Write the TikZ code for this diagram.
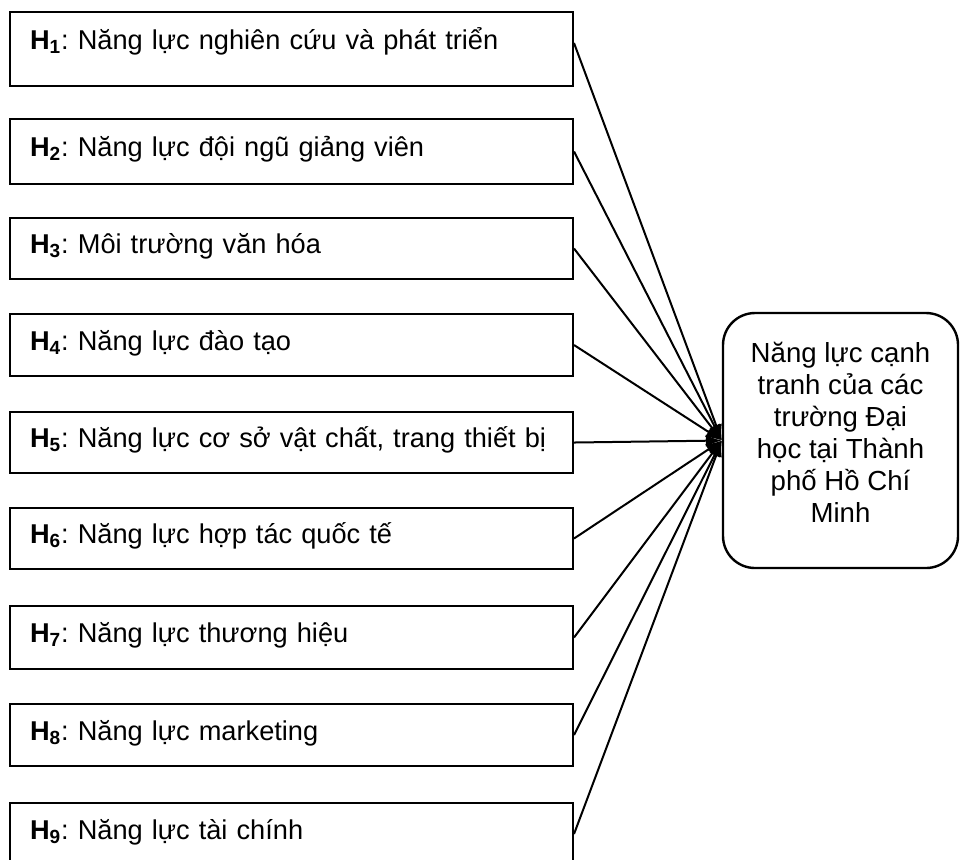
\documentclass[tikz,border=0pt]{standalone}
\usepackage{fontspec}
\setmainfont{Liberation Sans}
\usetikzlibrary{arrows.meta}
\begin{document}
\frenchspacing
\begin{tikzpicture}[x=0.5pt, y=-0.5pt,
  yeuto/.style={draw, line width=1pt, anchor=north west, inner xsep=10pt, inner ysep=0pt,
    text width=261.5pt, align=left, font=\fontsize{13.6pt}{16pt}\selectfont,
    text height=0.75em, text depth=0.25em},
  dich/.style={draw, line width=1.2pt, rounded corners=16pt, minimum width=117.5pt,
    minimum height=127.5pt, align=center, font=\fontsize{13.8pt}{16pt}\selectfont,
    text depth=8pt},
  noi/.style={line width=1pt, -{Latex[length=8pt, width=6pt]}}]

\useasboundingbox (0,0) rectangle (961,859);

% --- cac yeu to (H1 - H9) ---
\node[yeuto, minimum height=37pt, text depth=0.75em] (h1) at (9,11)
  {\textbf{H\textsubscript{1}}: Năng lực nghiên cứu và phát triển};
\node[yeuto, minimum height=32.5pt] (h2) at (9,118)
  {\textbf{H\textsubscript{2}}: Năng lực đội ngũ giảng viên};
\node[yeuto, minimum height=30.5pt] (h3) at (9,217)
  {\textbf{H\textsubscript{3}}: Môi trường văn hóa};
\node[yeuto, minimum height=31pt] (h4) at (9,313)
  {\textbf{H\textsubscript{4}}: Năng lực đào tạo};
\node[yeuto, minimum height=30.5pt] (h5) at (9,411)
  {\textbf{H\textsubscript{5}}: Năng lực cơ sở vật chất, trang thiết bị};
\node[yeuto, minimum height=30.5pt] (h6) at (9,507)
  {\textbf{H\textsubscript{6}}: Năng lực hợp tác quốc tế};
\node[yeuto, minimum height=31.5pt] (h7) at (9,605)
  {\textbf{H\textsubscript{7}}: Năng lực thương hiệu};
\node[yeuto, minimum height=31pt] (h8) at (9,703)
  {\textbf{H\textsubscript{8}}: Năng lực marketing};
\node[yeuto, minimum height=31pt] (h9) at (9,802)
  {\textbf{H\textsubscript{9}}: Năng lực tài chính};

% --- nang luc canh tranh ---
\node[dich] (nlct) at (840.5,440.5)
  {Năng lực cạnh\\tranh của các\\trường Đại\\học tại Thành\\phố Hồ Chí\\Minh};

% --- mui ten hoi tu ---
\draw[noi] ([yshift=3pt]h1.east) -- (nlct.west);
\foreach \i in {2,...,9}
  \draw[noi] (h\i.east) -- (nlct.west);

\end{tikzpicture}
\end{document}
